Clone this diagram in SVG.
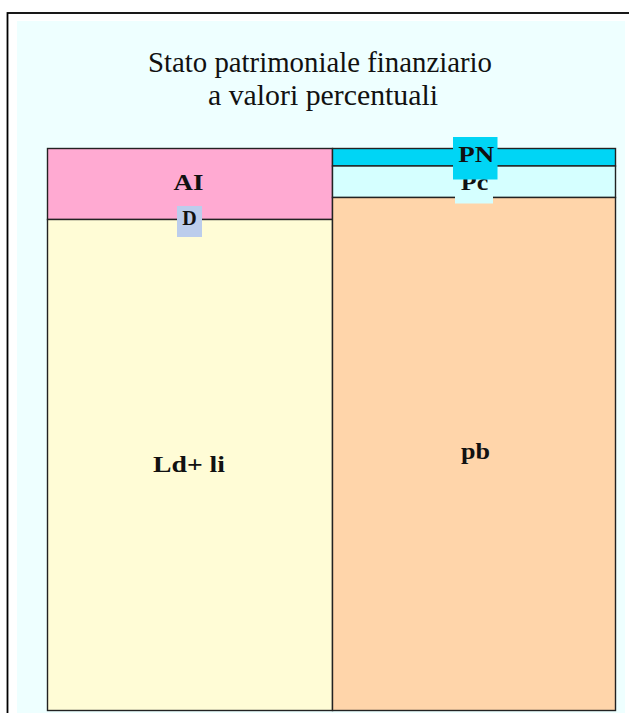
<svg xmlns="http://www.w3.org/2000/svg" width="629" height="713" viewBox="0 0 629 713">
  <style>
    .title { font-family: "Liberation Serif", "Times New Roman", serif; font-size: 28.5px; fill: #111; text-anchor: middle; }
    .lbl { font-family: "Liberation Serif", "Times New Roman", serif; font-size: 23px; font-weight: bold; fill: #111; text-anchor: middle; }
    .box { stroke: #222; stroke-width: 1.4; }
  </style>
  <rect x="0" y="0" width="629" height="713" fill="#ffffff"/>
  <rect x="7.5" y="13" width="660" height="740" fill="none" stroke="#000" stroke-width="1.8"/>
  <rect x="17" y="21" width="608" height="700" fill="#EEFFFF"/>

  <g id="title">
    <text class="title" x="320" y="72" textLength="344" lengthAdjust="spacingAndGlyphs">Stato patrimoniale finanziario</text>
    <text class="title" x="323" y="105" textLength="230" lengthAdjust="spacingAndGlyphs">a valori percentuali</text>
  </g>

  <g id="node-AI">
    <rect class="box" x="47.5" y="148.5" width="285" height="71" fill="#FFAAD2"/>
    <text class="lbl" x="188.5" y="190" textLength="30" lengthAdjust="spacingAndGlyphs">AI</text>
  </g>
  <g id="node-Ld-li">
    <rect class="box" x="47.5" y="219.5" width="285" height="491" fill="#FFFCD6"/>
    <text class="lbl" x="189" y="472" textLength="72" lengthAdjust="spacingAndGlyphs">Ld+ li</text>
  </g>
  <g id="node-D">
    <rect x="177" y="206" width="25" height="31" fill="#BCCDEC"/>
    <text class="lbl" x="189.5" y="225" style="font-size:20px">D</text>
  </g>

  <g id="node-PN">
    <rect class="box" x="332.5" y="148.5" width="283" height="17.5" fill="#00D5F5"/>
  </g>
  <g id="node-Pc">
    <rect class="box" x="332.5" y="166" width="283" height="31.5" fill="#D5FFFF"/>
  </g>
  <g id="node-pb">
    <rect class="box" x="332.5" y="197.5" width="283" height="513" fill="#FFD5AA"/>
    <text class="lbl" x="475.4" y="459" textLength="29" lengthAdjust="spacingAndGlyphs">pb</text>
  </g>

  <g id="label-Pc">
    <rect x="455" y="170" width="38" height="33.5" fill="#D5FFFF"/>
    <text class="lbl" x="474.5" y="189.5" textLength="27.5" lengthAdjust="spacingAndGlyphs">Pc</text>
  </g>
  <g id="label-PN">
    <rect x="453" y="137" width="44.5" height="42.5" fill="#00D5F5"/>
    <text class="lbl" x="476.3" y="162.3" textLength="36" lengthAdjust="spacingAndGlyphs">PN</text>
  </g>
</svg>
